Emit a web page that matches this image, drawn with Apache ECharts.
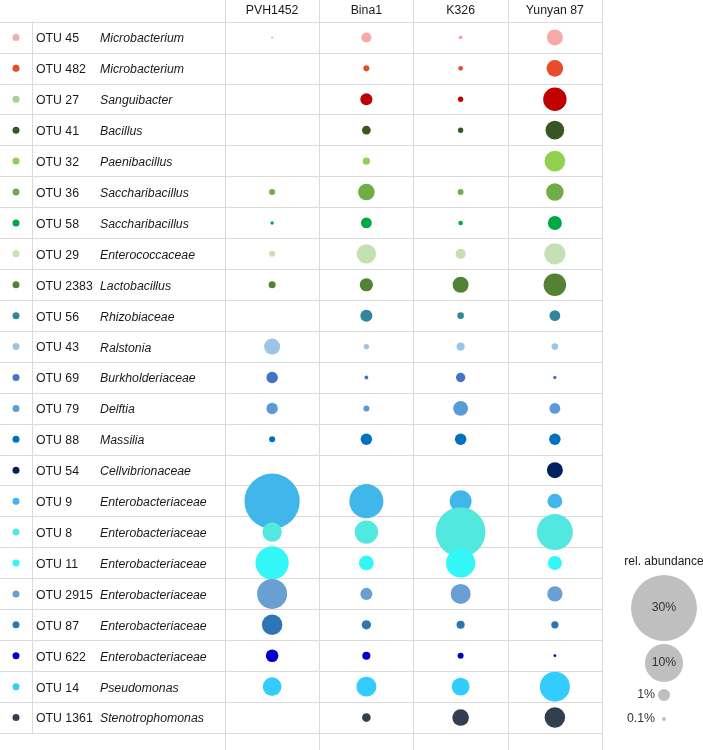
<!DOCTYPE html>
<html>
<head>
<meta charset="utf-8">
<script src="https://cdn.jsdelivr.net/npm/echarts@6/dist/echarts.min.js"></script>
<style>
html, body { margin: 0; padding: 0; background: #fff; }
#chart { width: 703px; height: 750px; }
</style>
</head>
<body>
<div id="chart"></div>
<script>
var columns = ['PVH1452', 'Bina1', 'K326', 'Yunyan 87'];
var otuNames = ['OTU 45', 'OTU 482', 'OTU 27', 'OTU 41', 'OTU 32', 'OTU 36', 'OTU 58', 'OTU 29', 'OTU 2383', 'OTU 56', 'OTU 43', 'OTU 69',
    'OTU 79', 'OTU 88', 'OTU 54', 'OTU 9', 'OTU 8', 'OTU 11', 'OTU 2915', 'OTU 87', 'OTU 622', 'OTU 14', 'OTU 1361'];
var genera = ['Microbacterium', 'Microbacterium', 'Sanguibacter', 'Bacillus', 'Paenibacillus', 'Saccharibacillus', 'Saccharibacillus',
    'Enterococcaceae', 'Lactobacillus', 'Rhizobiaceae', 'Ralstonia', 'Burkholderiaceae', 'Delftia', 'Massilia', 'Cellvibrionaceae',
    'Enterobacteriaceae', 'Enterobacteriaceae', 'Enterobacteriaceae', 'Enterobacteriaceae', 'Enterobacteriaceae', 'Enterobacteriaceae',
    'Pseudomonas', 'Stenotrophomonas'];
// bubble colours, one per row
var rowColors = ['#f7a8a8', '#e84c2b', '#c00000', '#375623', '#92d050', '#70ad47', '#00a846', '#c5e0b4', '#548235', '#31859c', '#9dc3e6',
    '#4472c4', '#5b9bd5', '#0070c0', '#002060', '#41b6ea', '#52e8e0', '#33f6f6', '#699fd2', '#2e75b6', '#0000cc', '#33ccff', '#323f4f'];
// the little key dots at the left (OTU 27 differs from its bubbles)
var keyColors = ['#f7a8a8', '#e84c2b', '#a9d18e', '#375623', '#92d050', '#70ad47', '#00a846', '#c5e0b4', '#548235', '#31859c', '#9dc3e6',
    '#4472c4', '#5b9bd5', '#0070c0', '#002060', '#41b6ea', '#52e8e0', '#33f6f6', '#699fd2', '#2e75b6', '#0000cc', '#33ccff', '#323f4f'];

// relative abundance (%) per column, null = absent
var pvh1452 = [0.03, null, null, null, null, 0.25, 0.08, 0.25, 0.34, null, 1.75, 0.9, 0.9, 0.25, null, 21, 2.6, 7.6, 6.2, 2.9, 1.1, 2.4, null];
var bina1 = [0.7, 0.25, 1.0, 0.52, 0.37, 1.9, 0.8, 2.6, 1.2, 1.0, 0.2, 0.1, 0.25, 0.9, null, 8.0, 3.75, 1.5, 1.0, 0.6, 0.45, 2.75, 0.52];
var k326 = [0.1, 0.15, 0.2, 0.2, null, 0.25, 0.14, 0.7, 1.75, 0.3, 0.45, 0.6, 1.5, 0.9, null, 3.3, 17, 5.9, 2.75, 0.45, 0.25, 2.2, 1.9];
var yunyan87 = [1.75, 1.9, 3.75, 2.4, 2.95, 2.1, 1.35, 3.1, 3.5, 0.8, 0.3, 0.08, 0.8, 0.9, 1.75, 1.5, 8.9, 1.35, 1.6, 0.37, 0.05, 6.2, 2.9];

var legendValues = [30, 10, 1, 0.1];
var legendLabels = ['30%', '10%', '1%', '0.1%'];

(function(){
    var font = 'Liberation Sans, Arial, sans-serif';
    var fs = 12.3;
    var lineColor = '#dadada';
    var textColor = '#1a1a1a';
    var cols = [pvh1452, bina1, k326, yunyan87];

    // bubble area proportional to abundance: 30% -> 66px across
    function sizeOf(v) {
        return 12.05 * Math.sqrt(v);
    }

    var bubbles = [];
    otuNames.forEach(function(name, r){
        cols.forEach(function(col, c){
            if (col[r] == null) return;
            bubbles.push({value: [c, r, col[r]], itemStyle: {color: rowColors[r], opacity: 1}});
        });
    });

    var keyDots = otuNames.map(function(name, r){
        return {value: [0, r], itemStyle: {color: keyColors[r], opacity: 1}};
    });

    // legend (size key) drawn as graphics, radius from the same scale
    var legendY = [608, 663, 695, 719];
    var graphics = [{
        type: 'text', x: 664, y: 562,
        style: {text: 'rel. abundance', font: '12px ' + font, fill: textColor, align: 'center', verticalAlign: 'middle'}
    }];
    legendValues.forEach(function(v, i){
        var r = sizeOf(v) / 2;
        graphics.push({type: 'circle', shape: {cx: 664, cy: legendY[i], r: r}, style: {fill: '#bfbfbf'}, silent: true});
        if (i < 2) {
            graphics.push({type: 'text', x: 664, y: legendY[i],
                style: {text: legendLabels[i], font: fs + 'px ' + font, fill: '#333', align: 'center', verticalAlign: 'middle'}});
        } else {
            graphics.push({type: 'text', x: 655, y: legendY[i],
                style: {text: legendLabels[i], font: fs + 'px ' + font, fill: '#333', align: 'right', verticalAlign: 'middle'}});
        }
    });

    var option = {
        animation: false,
        backgroundColor: '#fff',
        textStyle: {fontFamily: font},
        grid: [
            {left: 0, top: 22, width: 32, bottom: 17},
            {left: 32, top: 22, right: 101, bottom: 17},
            {left: 225, top: 22, right: 101, bottom: 17},
            {left: 225, top: 0, right: 101, bottom: 0}
        ],
        xAxis: [
            {gridIndex: 0, type: 'category', data: ['key'], show: false},
            {gridIndex: 1, type: 'value', min: 0, max: 1, show: false},
            {gridIndex: 2, type: 'category', data: columns, show: false},
            {
                gridIndex: 3, type: 'category', data: columns, position: 'top',
                axisLine: {show: false}, axisTick: {show: false},
                axisLabel: {inside: true, margin: 5, fontSize: fs, color: textColor, interval: 0},
                splitLine: {show: true, interval: 0, lineStyle: {color: lineColor, width: 1}}
            }
        ],
        yAxis: [
            {
                gridIndex: 0, type: 'category', data: otuNames, inverse: true,
                axisLine: {show: false}, axisTick: {show: false}, axisLabel: {show: false},
                splitLine: {show: true, interval: 0, lineStyle: {color: lineColor, width: 1}}
            },
            {
                gridIndex: 1, type: 'category', data: otuNames, inverse: true,
                axisLine: {show: true, lineStyle: {color: lineColor, width: 1}}, axisTick: {show: false},
                axisLabel: {
                    inside: true, margin: 4, interval: 0, padding: [3, 0, 0, 0],
                    formatter: function(value, index){
                        return '{o|' + value + '}{g|' + genera[index] + '}';
                    },
                    rich: {
                        o: {width: 64, fontSize: fs, color: textColor, fontFamily: font},
                        g: {fontSize: fs, fontStyle: 'italic', color: textColor, fontFamily: font}
                    }
                },
                splitLine: {show: true, interval: 0, lineStyle: {color: lineColor, width: 1}}
            },
            {gridIndex: 2, type: 'category', data: otuNames, inverse: true, show: false},
            {gridIndex: 3, type: 'value', min: 0, max: 1, show: false}
        ],
        series: [
            {
                type: 'scatter', xAxisIndex: 0, yAxisIndex: 0,
                symbolSize: 7, data: keyDots, silent: true
            },
            {
                type: 'scatter', xAxisIndex: 2, yAxisIndex: 2,
                symbolSize: function(d){ return sizeOf(d[2]); },
                data: bubbles, silent: true
            }
        ],
        graphic: graphics
    };
    var chart = echarts.init(document.getElementById('chart'));
    chart.setOption(option);
})();
</script>
</body>
</html>
